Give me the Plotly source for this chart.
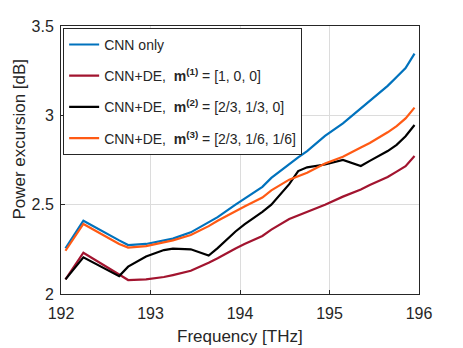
import plotly.graph_objects as go

# frequency grid [THz]
freq = [192.05, 192.25, 192.65, 192.75, 192.95, 193.15, 193.25, 193.45, 193.65, 193.75,
        193.95, 194.05, 194.25, 194.35, 194.55, 194.65, 194.75, 194.95, 195.15, 195.35,
        195.45, 195.65, 195.75, 195.85, 195.95]

cnn_only = [2.256, 2.41, 2.30, 2.274, 2.28, 2.30, 2.31, 2.345, 2.40, 2.43,
            2.50, 2.535, 2.60, 2.65, 2.73, 2.765, 2.80, 2.885, 2.955, 3.04,
            3.08, 3.165, 3.215, 3.265, 3.345]
cnn_de_m1 = [2.082, 2.231, 2.109, 2.078, 2.082, 2.095, 2.106, 2.13, 2.175, 2.20,
             2.255, 2.28, 2.325, 2.36, 2.42, 2.44, 2.457, 2.50, 2.545, 2.585,
             2.61, 2.655, 2.685, 2.715, 2.772]
cnn_de_m2 = [2.082, 2.205, 2.10, 2.153, 2.21, 2.246, 2.254, 2.25, 2.215, 2.257,
             2.35, 2.39, 2.46, 2.50, 2.615, 2.688, 2.709, 2.725, 2.75, 2.716,
             2.745, 2.80, 2.835, 2.883, 2.946]
cnn_de_m3 = [2.242, 2.392, 2.28, 2.26, 2.268, 2.29, 2.30, 2.33, 2.38, 2.41,
             2.465, 2.49, 2.54, 2.58, 2.64, 2.66, 2.679, 2.73, 2.768, 2.82,
             2.845, 2.905, 2.94, 2.983, 3.043]

names = ['CNN only',
         'CNN+DE,  <b>m<sup>(1)</sup></b> = [1, 0, 0]',
         'CNN+DE,  <b>m<sup>(2)</sup></b> = [2/3, 1/3, 0]',
         'CNN+DE,  <b>m<sup>(3)</sup></b> = [2/3, 1/6, 1/6]']
colors = ['#0072BD', '#A2142F', '#000000', '#FF5A14']

fig = go.Figure()
for i, (y, name, c) in enumerate(zip([cnn_only, cnn_de_m1, cnn_de_m2, cnn_de_m3], names, colors)):
    fig.add_trace(go.Scatter(x=freq, y=y, mode='lines', name=name, legendgroup=str(i),
                             line=dict(color=c, width=2.2)))

axis_style = dict(showgrid=True, gridcolor='#dcdcdc', gridwidth=1, zeroline=False,
                  showline=True, linecolor='#262626', linewidth=1, mirror=True,
                  ticks='inside', ticklen=4, tickcolor='#262626',
                  tickfont=dict(size=16, color='#262626'), automargin=False)

fig.update_xaxes(range=[192, 196], dtick=1, ticklabelstandoff=5, **axis_style)
fig.update_yaxes(range=[2, 3.5], dtick=0.5, ticklabelstandoff=3, **axis_style)

# axis titles as annotations, placed like the matlab figure
fig.add_annotation(text='Frequency [THz]', xref='paper', yref='paper', x=0.5, y=-0.16,
                   xanchor='center', yanchor='middle', showarrow=False,
                   font=dict(size=17, color='#262626'))
fig.add_annotation(text='Power excursion [dB]', xref='paper', yref='paper', x=-0.116, y=0.578,
                   xanchor='center', yanchor='middle', textangle=-90, showarrow=False,
                   font=dict(size=17, color='#262626'))

# page body adds ~8px offset, so the figure is a bit smaller than the window
fig.update_layout(
    width=455, height=340,
    margin=dict(l=53, r=44, t=18, b=54),
    paper_bgcolor='white', plot_bgcolor='white',
    font=dict(family='Liberation Sans, Arial, sans-serif', color='#262626'),
    legend=dict(x=0.006, y=0.993, xanchor='left', yanchor='top',
                bgcolor='white', bordercolor='#262626', borderwidth=1,
                font=dict(size=14, color='#262626'),
                traceorder='grouped', tracegroupgap=10),
    showlegend=True,
)

fig.write_html('out.html')
